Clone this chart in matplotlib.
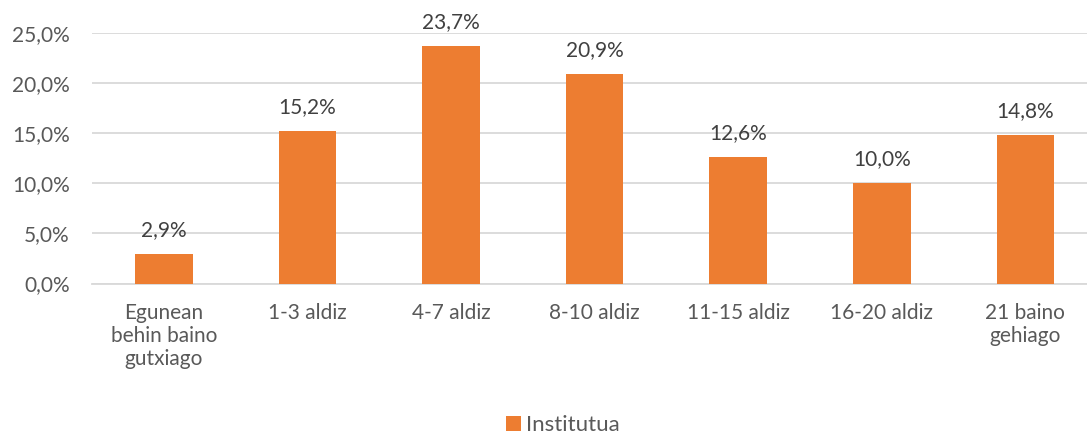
import matplotlib
matplotlib.use("Agg")
import matplotlib.pyplot as plt
from matplotlib.patches import Patch

categories = ["Egunean\nbehin baino\ngutxiago", "1-3 aldiz", "4-7 aldiz", "8-10 aldiz",
              "11-15 aldiz", "16-20 aldiz", "21 baino\ngehiago"]
values = [2.9, 15.2, 23.7, 20.9, 12.6, 10.0, 14.8]
series_name = "Institutua"
yticks = [0, 5, 10, 15, 20, 25]

ORANGE = "#ED7D31"
GRID = "#D9D9D9"
TXT = "#595959"
LBL = "#404040"
FONT = "Lato"
FS = 15

plt.rcParams["font.family"] = [FONT, "DejaVu Sans"]

fig = plt.figure(figsize=(10.87, 4.34), dpi=100)
W, H = 1087, 434
left, right = 92, 1087
top, bottom = 33, 283.5
ax = fig.add_axes([left / W, 1 - bottom / H, (right - left) / W, (bottom - top) / H])

x = list(range(len(categories)))
ax.bar(x, values, width=0.40, color=ORANGE, zorder=3)
for xi, v in zip(x, values):
    ax.annotate(f"{v:.1f}%".replace(".", ","), (xi, v), xytext=(0, 10),
                textcoords="offset points", ha="center", va="bottom",
                fontsize=FS, color=LBL)

spacing = 143.6
ax.set_xlim(-0.5, -0.5 + (right - left) / spacing)
ax.set_ylim(0, 25)
ax.set_yticks(yticks)
ax.set_yticklabels([f"{t:.1f}%".replace(".", ",") for t in yticks], fontsize=FS, color=TXT)
ax.set_xticks(x)
ax.set_xticklabels(categories, fontsize=FS, color=TXT, linespacing=1.2, va="top")
ax.tick_params(axis="both", length=0)
ax.tick_params(axis="y", pad=16)
ax.tick_params(axis="x", pad=14)
ax.grid(axis="y", color=GRID, linewidth=1.3, zorder=0)
for s in ["top", "right", "left"]:
    ax.spines[s].set_visible(False)
ax.spines["bottom"].set_color(GRID)
ax.spines["bottom"].set_linewidth(1.3)
ax.spines["bottom"].set_zorder(1)

handle = Patch(facecolor=ORANGE, edgecolor="none", label=series_name)
fig.legend(handles=[handle], loc="center", bbox_to_anchor=(563 / W, 1 - 425 / H),
           frameon=False, fontsize=FS + 1, handlelength=0.65, handleheight=0.65,
           handletextpad=0.25, labelcolor=TXT)

fig.savefig("out.png", dpi=100, facecolor="white")
